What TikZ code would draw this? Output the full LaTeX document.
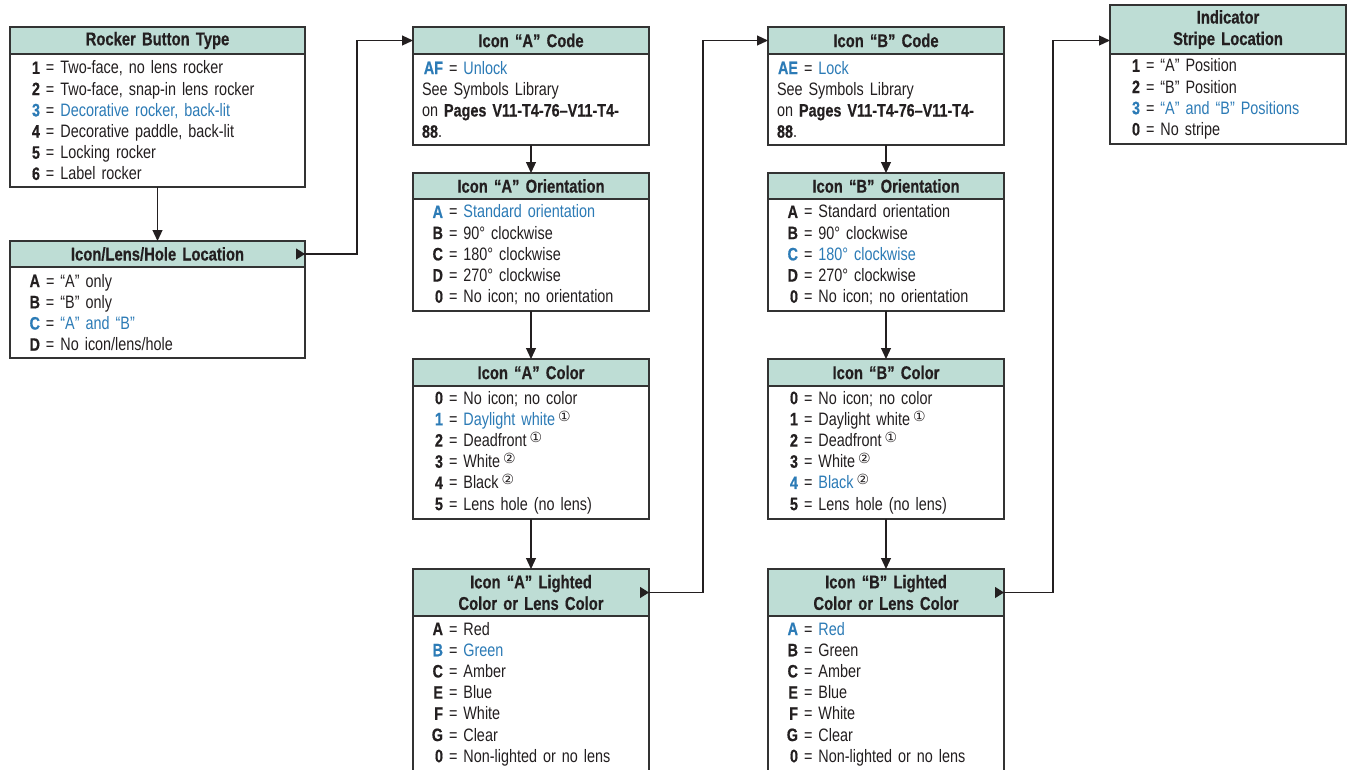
\documentclass[tikz,border=0pt]{standalone}
\usepackage{fontspec}
\setmainfont{Liberation Sans}[FakeStretch=0.8, BoldFeatures={FakeBold=0.5}]
\newfontfamily\circfont{DejaVu Sans}
\usetikzlibrary{positioning,arrows.meta}

\definecolor{hdrteal}{HTML}{BEDDD5}
\definecolor{selblue}{HTML}{2C7BB6}
\definecolor{edge}{HTML}{333333}
\definecolor{ink}{HTML}{231F20}

\newcommand{\opt}[2]{\makebox[30pt][r]{\textbf{#1}} = #2}
\newcommand{\sel}[2]{\makebox[30pt][r]{\textcolor{selblue}{\textbf{#1}}} = \textcolor{selblue}{#2}}
\newcommand{\fn}[1]{\,\raisebox{0.45ex}{\circfont\fontsize{14}{14}\selectfont #1}}

\tikzset{
  hdr/.style={draw=edge, line width=1.2pt, fill=hdrteal, anchor=north, align=center,
    inner sep=0pt, outer sep=0pt, text=ink, font=\fontsize{18.5}{21.5}\selectfont\bfseries},
  lst/.style={draw=edge, line width=1.2pt, fill=white, align=left,
    inner sep=0pt, outer sep=0pt, text=ink, font=\fontsize{18}{21.2}\selectfont},
  nxt/.style={-{Triangle[length=11pt,width=10pt]}, line width=1.2pt, draw=ink},
  jump/.style={{Triangle[reversed,length=9pt,width=11pt]}-{Triangle[length=11pt,width=10pt]},
    shorten <=-9pt, line width=1.2pt, draw=ink}
}

\begin{document}
\begin{tikzpicture}[x=1pt,y=-1pt]
  \clip (0,0) rectangle (1350,769);

  % rocker type and location
  \node[hdr, minimum height=27pt, text width=295pt] (typeh) at (157.5,27) {Rocker Button Type};
  \node[lst, minimum height=133pt, text width=295pt, below=0pt of typeh] (type) {%
    \opt{1}{Two-face, no lens rocker}\\
    \opt{2}{Two-face, snap-in lens rocker}\\
    \sel{3}{Decorative rocker, back-lit}\\
    \opt{4}{Decorative paddle, back-lit}\\
    \opt{5}{Locking rocker}\\
    \opt{6}{Label rocker}};

  \node[hdr, minimum height=26pt, text width=295pt] (loch) at (157.5,241) {Icon/Lens/Hole Location};
  \node[lst, minimum height=91pt, text width=295pt, below=0pt of loch] (loc) {%
    \opt{A}{“A” only}\\
    \opt{B}{“B” only}\\
    \sel{C}{“A” and “B”}\\
    \opt{D}{No icon/lens/hole}};

  % icon A column
  \node[hdr, minimum height=27pt, text width=236pt] (acodeh) at (531,27) {Icon “A” Code};
  \node[lst, minimum height=91pt, text width=236pt, below=0pt of acodeh] (acode) {%
    \sel{AF}{Unlock}\\
    \hspace*{9pt}See Symbols Library\\
    \hspace*{9pt}on \textbf{Pages V11-T4-76–V11-T4-}\\
    \hspace*{9pt}\textbf{88}.};

  \node[hdr, minimum height=26pt, text width=236pt] (aorih) at (531,173) {Icon “A” Orientation};
  \node[lst, minimum height=112pt, text width=236pt, below=0pt of aorih] (aori) {%
    \sel{A}{Standard orientation}\\
    \opt{B}{90° clockwise}\\
    \opt{C}{180° clockwise}\\
    \opt{D}{270° clockwise}\\
    \opt{0}{No icon; no orientation}};

  \node[hdr, minimum height=27pt, text width=236pt] (acolh) at (531,359) {Icon “A” Color};
  \node[lst, minimum height=133pt, text width=236pt, below=0pt of acolh] (acol) {%
    \opt{0}{No icon; no color}\\
    \sel{1}{Daylight white}\fn{①}\\
    \opt{2}{Deadfront}\fn{①}\\
    \opt{3}{White}\fn{②}\\
    \opt{4}{Black}\fn{②}\\
    \opt{5}{Lens hole (no lens)}};

  \node[hdr, minimum height=47pt, text width=236pt] (alith) at (531,569) {Icon “A” Lighted\\Color or Lens Color};
  \node[lst, minimum height=156pt, text width=236pt, below=0pt of alith] (alit) {%
    \opt{A}{Red}\\
    \sel{B}{Green}\\
    \opt{C}{Amber}\\
    \opt{E}{Blue}\\
    \opt{F}{White}\\
    \opt{G}{Clear}\\
    \opt{0}{Non-lighted or no lens}};

  % icon B column
  \node[hdr, minimum height=27pt, text width=236pt] (bcodeh) at (886,27) {Icon “B” Code};
  \node[lst, minimum height=91pt, text width=236pt, below=0pt of bcodeh] (bcode) {%
    \sel{AE}{Lock}\\
    \hspace*{9pt}See Symbols Library\\
    \hspace*{9pt}on \textbf{Pages V11-T4-76–V11-T4-}\\
    \hspace*{9pt}\textbf{88}.};

  \node[hdr, minimum height=26pt, text width=236pt] (borih) at (886,173) {Icon “B” Orientation};
  \node[lst, minimum height=112pt, text width=236pt, below=0pt of borih] (bori) {%
    \opt{A}{Standard orientation}\\
    \opt{B}{90° clockwise}\\
    \sel{C}{180° clockwise}\\
    \opt{D}{270° clockwise}\\
    \opt{0}{No icon; no orientation}};

  \node[hdr, minimum height=27pt, text width=236pt] (bcolh) at (886,359) {Icon “B” Color};
  \node[lst, minimum height=133pt, text width=236pt, below=0pt of bcolh] (bcol) {%
    \opt{0}{No icon; no color}\\
    \opt{1}{Daylight white}\fn{①}\\
    \opt{2}{Deadfront}\fn{①}\\
    \opt{3}{White}\fn{②}\\
    \sel{4}{Black}\fn{②}\\
    \opt{5}{Lens hole (no lens)}};

  \node[hdr, minimum height=47pt, text width=236pt] (blith) at (886,569) {Icon “B” Lighted\\Color or Lens Color};
  \node[lst, minimum height=156pt, text width=236pt, below=0pt of blith] (blit) {%
    \sel{A}{Red}\\
    \opt{B}{Green}\\
    \opt{C}{Amber}\\
    \opt{E}{Blue}\\
    \opt{F}{White}\\
    \opt{G}{Clear}\\
    \opt{0}{Non-lighted or no lens}};

  % stripe
  \node[hdr, minimum height=49pt, text width=236pt] (stripeh) at (1228,5) {Indicator\\Stripe Location};
  \node[lst, minimum height=90pt, text width=236pt, below=0pt of stripeh] (stripe) {%
    \opt{1}{“A” Position}\\
    \opt{2}{“B” Position}\\
    \sel{3}{“A” and “B” Positions}\\
    \opt{0}{No stripe}};

  % connectors
  \draw[nxt] (type) -- (loch);
  \draw[jump] (loch.east) -- ++(52,0) |- (acodeh.west);
  \draw[nxt] (acode) -- (aorih);
  \draw[nxt] (aori) -- (acolh);
  \draw[nxt] (acol) -- (alith);
  \draw[jump] (alith.east) -- ++(54,0) |- (bcodeh.west);
  \draw[nxt] (bcode) -- (borih);
  \draw[nxt] (bori) -- (bcolh);
  \draw[nxt] (bcol) -- (blith);
  \draw[jump] (blith.east) -- ++(49,0) |- (stripeh.west |- bcodeh.west);
\end{tikzpicture}
\end{document}
